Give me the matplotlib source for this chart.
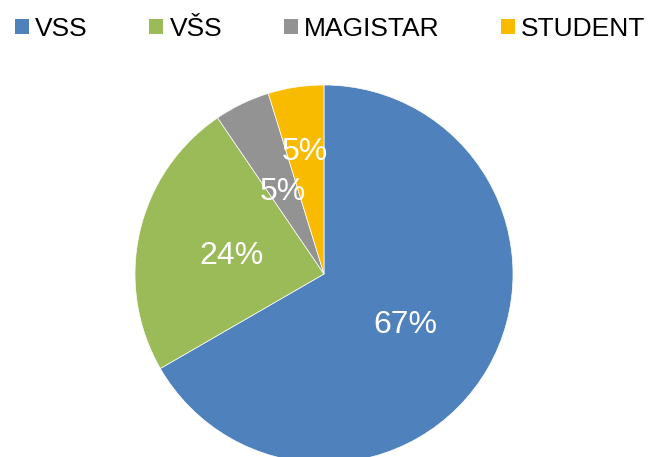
import numpy as np
import matplotlib
matplotlib.use("Agg")
import matplotlib.pyplot as plt
from matplotlib.patches import Patch

categories = ["VSS", "VŠS", "MAGISTAR", "STUDENT"]
counts = [14, 5, 1, 1]
colors = ["#4F81BD", "#9BBB59", "#939393", "#F8BB00"]

plt.rcParams['font.family'] = ['Liberation Sans', 'DejaVu Sans']

W, H = 650, 457
fig = plt.figure(figsize=(W / 100, H / 100), dpi=100)
cx, cy, r = 324, 274, 189
ax = fig.add_axes([(cx - r) / W, (H - cy - r) / H, 2 * r / W, 2 * r / H])

wedges, texts, autotexts = ax.pie(
    counts, colors=colors, startangle=90, counterclock=False,
    autopct=lambda p: f"{p:.0f}%", pctdistance=0.5,
    wedgeprops=dict(linewidth=0.5, edgecolor="white"),
    textprops=dict(color="white", fontsize=23))
ax.set_xlim(-1, 1)
ax.set_ylim(-1, 1)
ax.set_aspect('equal')
for t in autotexts:
    t.set_va('center_baseline')

# Excel "best fit" pushes the last small label further out
w = wedges[3]
ang = np.deg2rad((w.theta1 + w.theta2) / 2)
autotexts[3].set_position((0.67 * np.cos(ang), 0.67 * np.sin(ang)))

handles = [Patch(facecolor=c, edgecolor="none") for c in colors]
fig.legend(handles, categories, loc="center", bbox_to_anchor=(0.508, 1 - 29 / H),
           ncol=4, frameon=False, fontsize=19, handlelength=0.53, handleheight=0.53,
           handletextpad=0.23, columnspacing=2.33, borderaxespad=0, borderpad=0)

fig.savefig("out.png", dpi=100)
